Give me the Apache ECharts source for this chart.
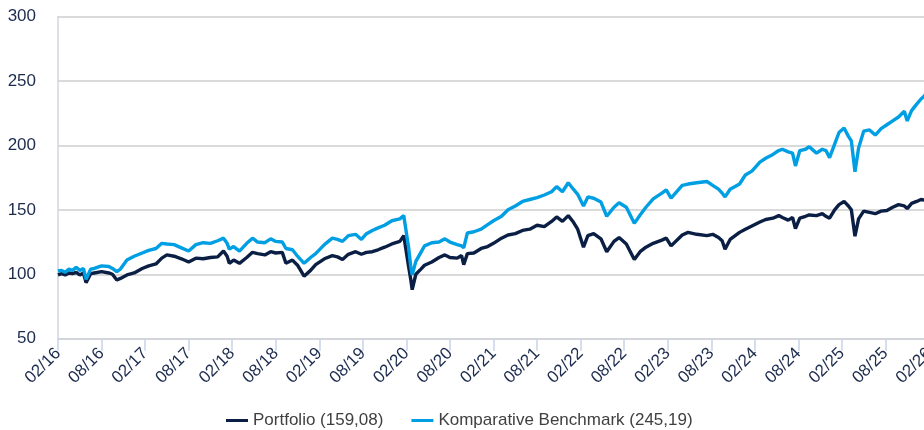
<!DOCTYPE html>
<html>
<head>
<meta charset="utf-8">
<script src="https://cdn.jsdelivr.net/npm/echarts@6/dist/echarts.min.js"></script>
<style>
  html, body { margin: 0; padding: 0; background: #ffffff; }
  #chart { width: 924px; height: 430px; }
</style>
</head>
<body>
<div id="chart"></div>
<script>
// Observation dates (month-end axis: tick 0 = end of 02/2016)
const dates = [
  '2016-03-01','2016-03-16','2016-04-01','2016-04-16','2016-05-01','2016-05-16','2016-06-01','2016-06-16','2016-06-27','2016-07-16',
  '2016-08-01','2016-09-01','2016-10-01','2016-10-16','2016-11-04','2016-11-19','2016-12-16','2017-01-16','2017-02-19','2017-03-16',
  '2017-04-16','2017-05-10','2017-06-01','2017-07-01','2017-08-01','2017-09-01','2017-10-01','2017-11-01','2017-12-01','2018-01-01',
  '2018-01-25','2018-02-10','2018-02-19','2018-03-07','2018-04-01','2018-05-01','2018-05-25','2018-06-16','2018-07-16','2018-08-10',
  '2018-09-01','2018-09-28','2018-10-13','2018-11-10','2018-12-01','2018-12-28','2019-01-25','2019-02-16','2019-03-22','2019-04-25',
  '2019-05-16','2019-06-07','2019-07-01','2019-08-01','2019-08-25','2019-09-16','2019-10-10','2019-11-04','2019-12-01','2020-01-01',
  '2020-02-04','2020-02-20','2020-03-10','2020-03-19','2020-03-25','2020-04-10','2020-05-01','2020-05-16','2020-06-16','2020-07-16',
  '2020-08-10','2020-09-01','2020-10-01','2020-10-19','2020-10-28','2020-11-13','2020-12-10','2021-01-10','2021-02-07','2021-03-01',
  '2021-04-04','2021-05-01','2021-06-01','2021-07-01','2021-08-01','2021-09-01','2021-10-01','2021-11-01','2021-11-22','2021-12-16',
  '2022-01-10','2022-02-01','2022-02-19','2022-03-13','2022-04-01','2022-04-25','2022-05-25','2022-06-19','2022-07-19','2022-08-10',
  '2022-09-10','2022-10-13','2022-11-07','2022-12-01','2023-01-01','2023-02-07','2023-02-25','2023-03-15','2023-05-01','2023-05-25',
  '2023-07-01','2023-08-13','2023-09-07','2023-10-01','2023-10-16','2023-10-28','2023-11-19','2023-12-28','2024-01-22','2024-02-19',
  '2024-03-22','2024-04-16','2024-05-16','2024-06-10','2024-06-25','2024-07-19','2024-08-07','2024-08-19','2024-09-07','2024-10-01',
  '2024-10-16','2024-11-16','2024-12-10','2024-12-25','2025-01-10','2025-02-01','2025-02-19','2025-03-10','2025-03-28','2025-04-10',
  '2025-04-25','2025-05-10','2025-06-01','2025-06-25','2025-07-19','2025-08-13','2025-09-07','2025-10-01','2025-10-25','2025-11-19',
  '2025-12-01','2025-12-19','2026-01-10','2026-01-28','2026-02-13','2026-02-28'
];

const portfolio = [
  99.5,100.5,99.5,101,100.5,101.5,99.5,101,93.5,100.5,
  101,102,101,100,95.5,96.8,99.5,101,104.5,106.5,
  108,112.5,115,114,112,109.5,112.5,112,113,113.5,
  118,114,108.5,111,108.5,113,117,116,115,117.5,
  116.5,117,108.5,111,107,98.5,103,107.5,112,114.5,
  113.5,111.5,115.5,117.5,115.5,117,117.5,119,121,123.5,
  125.5,130,106,96,88,100,104,107,109.5,113,
  115,113,112.5,114.5,107.5,116,116.5,120,121.5,124,
  128,130.5,131.5,134,135,138,137,141,144.5,141,
  145.5,140.5,135,121,130,131.5,127.5,117.5,125.5,128.5,
  123.5,111.5,117.5,121,124,126.5,128,122,130.5,132.5,
  131,130,131,128.5,126,119.5,127,132.5,135,137.5,
  140.5,142.5,143.5,145.5,144,142,144,135.5,143.5,145,
  146,145.5,147,145,143.5,150,154,156.5,153,150,
  129.5,143,149,148,147,149,149.5,152,154,153,
  151,155,156.5,158,157.5,159.08
];

const benchmark = [
  102.5,103,101.5,104,103,105.5,103,104.5,96,104,
  104.5,106.5,106,104.5,102,104,111,114,116.5,118.5,
  120,124,123.5,123,120.5,118,123,124.5,124,126,
  128,124,119.5,121.5,118,124,128,125,124.5,127.5,
  125.5,125,120,119,114,108.5,113,116,123,128,
  127,125.5,130,131,127,131.5,134,136,138,141.5,
  143,145.5,121,106,99.5,110,117,122,124.5,125,
  127.5,125,123,122,120.5,132,133,135,138.5,141.5,
  145,150,153,156.5,158,159.5,161.5,164,168,164,
  171,166,162,153,160,159,156,145,152,155.5,
  152,139.5,146,152,158.5,163,165.5,159,169,170,
  171,172,169,166,163,160,166,170,177,180,
  187,190,193,196,197,195,194,184,196,197,
  199,194,197,196,190.5,201,210,213.5,207,203.5,
  179.5,198,211,212,208,213,216,219,222,226.5,
  219,227,232,236,238.5,245.19
];

const tickLabels = [
  '02/16','08/16','02/17','08/17','02/18','08/18','02/19','08/19','02/20','08/20','02/21',
  '08/21','02/22','08/22','02/23','08/23','02/24','08/24','02/25','08/25','02/26'
];

// Months elapsed since the end of February 2016
function monthIndex(d) {
  const [y, m, day] = d.split('-').map(Number);
  return (y - 2016) * 12 + (m - 3) + (day - 1) / 30;
}

const fmt = v => v.toFixed(2).replace('.', ',');
const portfolioName = 'Portfolio (' + fmt(portfolio[portfolio.length - 1]) + ')';
const benchmarkName = 'Komparative Benchmark (' + fmt(benchmark[benchmark.length - 1]) + ')';

const navy = '#0b1f45';
const sky = '#009fe3';
const font = '"Liberation Sans", Arial, sans-serif';

const chart = echarts.init(document.getElementById('chart'), null, { renderer: 'canvas' });
chart.setOption({
  animation: false,
  backgroundColor: '#ffffff',
  textStyle: { fontFamily: font },
  grid: {
    left: 58, right: -5, top: 16.5, bottom: 91.3,
    containLabel: false,
    outerBoundsMode: 'none'
  },
  legend: {
    left: 221,
    top: 407,
    itemGap: 28,
    itemWidth: 22,
    itemHeight: 3,
    icon: 'rect',
    textStyle: { fontSize: 17, color: '#404040', fontFamily: font },
    data: [portfolioName, benchmarkName]
  },
  xAxis: {
    type: 'value',
    min: 0,
    max: 120,
    interval: 6,
    axisLine: { show: true, lineStyle: { color: '#d0d4da', width: 1.5 } },
    axisTick: { show: true, length: 12, lineStyle: { color: '#c8d4ea', width: 1.5 } },
    splitLine: { show: false },
    axisLabel: {
      rotate: 45,
      margin: 12,
      fontSize: 17,
      color: '#1c2b4e',
      fontFamily: font,
      showMaxLabel: true,
      formatter: v => tickLabels[Math.round(v / 6)]
    }
  },
  yAxis: {
    type: 'value',
    min: 50,
    max: 300,
    interval: 50,
    axisLine: { show: true, lineStyle: { color: '#d0d4da', width: 1.5 } },
    axisTick: { show: false },
    splitLine: { show: true, lineStyle: { color: '#dadada', width: 2 } },
    axisLabel: { fontSize: 17, color: '#1c2b4e', margin: 22, fontFamily: font }
  },
  series: [
    {
      name: portfolioName,
      type: 'line',
      showSymbol: false,
      color: navy,
      lineStyle: { color: navy, width: 3.4 },
      data: dates.map((d, i) => [monthIndex(d), portfolio[i]])
    },
    {
      name: benchmarkName,
      type: 'line',
      showSymbol: false,
      color: sky,
      lineStyle: { color: sky, width: 3.4 },
      data: dates.map((d, i) => [monthIndex(d), benchmark[i]])
    }
  ]
});
</script>
</body>
</html>
